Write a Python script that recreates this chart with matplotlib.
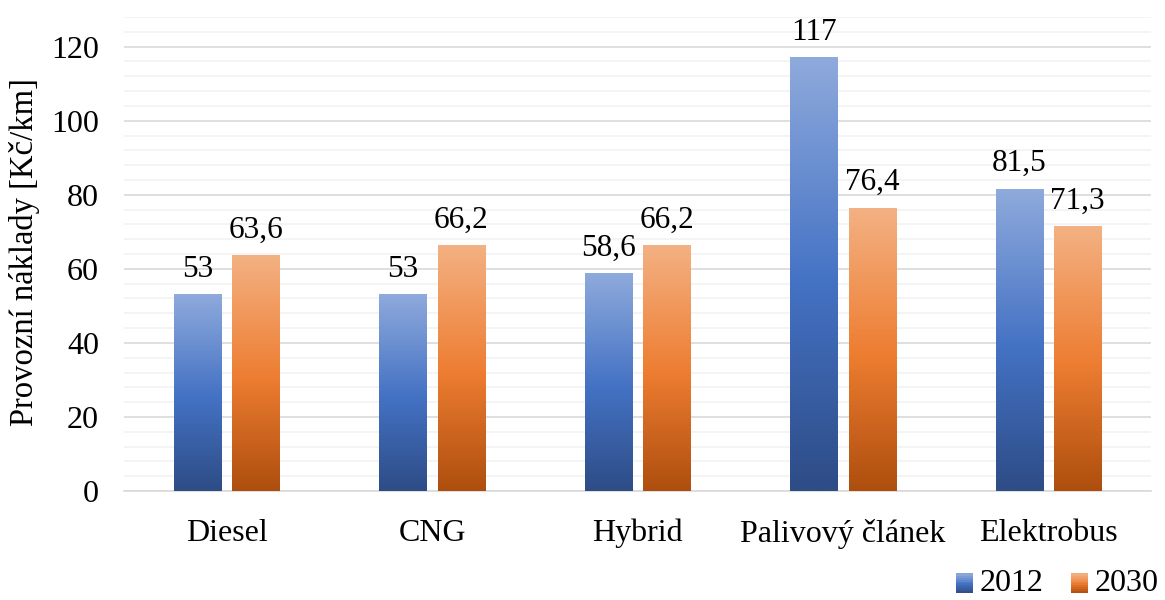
import numpy as np
import matplotlib
matplotlib.use("Agg")
import matplotlib.pyplot as plt
from matplotlib.colors import LinearSegmentedColormap
from matplotlib.patches import Patch, Rectangle

categories = ["Diesel", "CNG", "Hybrid", "Palivový článek", "Elektrobus"]
series_names = ["2012", "2030"]
values_2012 = [53, 53, 58.6, 117, 81.5]
values_2030 = [63.6, 66.2, 66.2, 76.4, 71.3]
labels_2012 = ["53", "53", "58,6", "117", "81,5"]
labels_2030 = ["63,6", "66,2", "66,2", "76,4", "71,3"]
yticks = [0, 20, 40, 60, 80, 100, 120]

plt.rcParams['font.family'] = ['Liberation Serif', 'DejaVu Serif']

fig = plt.figure(figsize=(11.65, 6.0), dpi=100)
ax = fig.add_axes([124/1165, 1 - 491/600, (1151-124)/1165, (491-17)/600])

blue_cmap = LinearSegmentedColormap.from_list("b", [(0, "#2E4C86"), (0.48, "#4472C4"), (1, "#8FAADC")])
orange_cmap = LinearSegmentedColormap.from_list("o", [(0, "#AE4E0E"), (0.48, "#ED7D31"), (1, "#F4B183")])

x = np.arange(len(categories))
w = 0.229
off = 0.1425
grad = np.linspace(0, 1, 256).reshape(-1, 1)

for vals, labs, cmap, sign in [(values_2012, labels_2012, blue_cmap, -1), (values_2030, labels_2030, orange_cmap, 1)]:
    bars = ax.bar(x + sign * off, vals, w, color="none", edgecolor="none", zorder=2)
    for b, lab in zip(bars, labs):
        x0, x1 = b.get_x(), b.get_x() + b.get_width()
        h = b.get_height()
        ax.imshow(grad, cmap=cmap, origin="lower", extent=(x0, x1, 0, h), aspect="auto", zorder=3, interpolation="bilinear")
        ax.text(b.get_x() + b.get_width() / 2, h + 3, lab, ha="center", va="bottom", fontsize=22.5, color="black")

ax.set_xlim(-0.5, len(categories) - 0.5)
ax.set_ylim(0, 128)
ax.set_yticks(yticks)
ax.set_yticks(np.arange(0, 129, 4), minor=True)
ax.set_yticklabels([str(t) for t in yticks], fontsize=23)
ax.tick_params(axis="y", which="both", length=0, pad=18)
ax.set_xticks(x)
ax.set_xticklabels(categories, fontsize=23)
ax.tick_params(axis="x", length=0, pad=20)
ax.grid(axis="y", which="minor", color="#F2F2F2", linewidth=1.2, zorder=0)
ax.grid(axis="y", which="major", color="#D9D9D9", linewidth=1.2, zorder=0)
for s in ["top", "right", "left"]:
    ax.spines[s].set_visible(False)
ax.spines["bottom"].set_color("#D9D9D9")
ax.spines["bottom"].set_linewidth(1.2)
ax.set_ylabel("Provozní náklady [Kč/km]", fontsize=23.5)
ax.yaxis.set_label_coords(40/1165, 1 - 252/600, transform=fig.transFigure)


class GradHandler:
    def __init__(self, cmap):
        self.cmap = cmap

    def legend_artist(self, legend, orig_handle, fontsize, handlebox):
        x0, y0 = handlebox.xdescent, handlebox.ydescent
        wd, ht = handlebox.width, handlebox.height
        n = 10
        r = None
        for i in range(n):
            r = Rectangle((x0, y0 + ht * i / n), wd, ht / n + 0.3, facecolor=self.cmap((i + 0.5) / n),
                          edgecolor="none", transform=handlebox.get_transform())
            handlebox.add_artist(r)
        return r


h1 = Patch(label="2012")
h2 = Patch(label="2030")
leg = fig.legend([h1, h2], series_names, loc="lower right", bbox_to_anchor=(1.0, -0.008), ncol=2, frameon=False,
                 fontsize=23, borderaxespad=0.1, borderpad=0.1,
                 handlelength=0.55, handleheight=0.55, handletextpad=0.2, columnspacing=0.85,
                 handler_map={h1: GradHandler(blue_cmap), h2: GradHandler(orange_cmap)})

fig.savefig("out.png", dpi=100)
